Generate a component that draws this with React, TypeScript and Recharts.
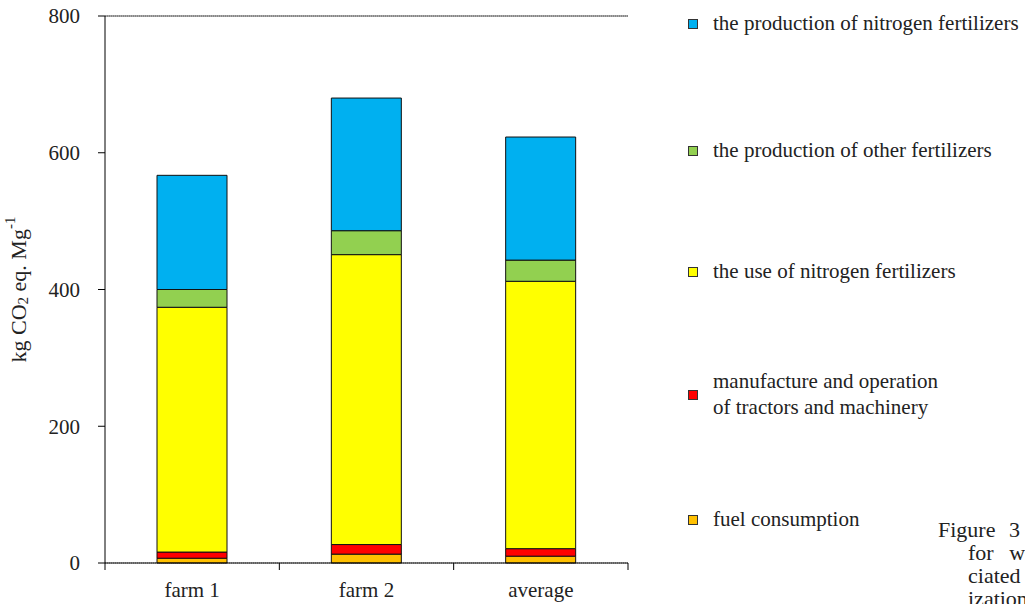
import React from "react";
import {
  Bar,
  BarChart,
  CartesianGrid,
  ReferenceLine,
  XAxis,
  YAxis,
} from "recharts";

const categories = ["farm 1", "farm 2", "average"];
const fuel = [7, 13, 10];
const machinery = [9, 14, 11];
const nitrogenUse = [358, 424, 391];
const otherProduction = [26, 35, 31];
const nitrogenProduction = [167, 194, 180];
const yTicks = [0, 200, 400, 600, 800];

const series = [
  { key: "fuel", name: "fuel consumption", color: "#FFC000", values: fuel },
  {
    key: "machinery",
    name: "manufacture and operation\nof tractors and machinery",
    color: "#FF0000",
    values: machinery,
  },
  { key: "nitrogenUse", name: "the use of nitrogen fertilizers", color: "#FFFF00", values: nitrogenUse },
  { key: "otherProduction", name: "the production of other fertilizers", color: "#92D050", values: otherProduction },
  {
    key: "nitrogenProduction",
    name: "the production of nitrogen fertilizers",
    color: "#00B0F0",
    values: nitrogenProduction,
  },
];

const data = categories.map((c, i) => {
  const row: Record<string, string | number> = { name: c };
  series.forEach((s) => (row[s.key] = s.values[i]));
  return row;
});

const FONT = '"Liberation Serif", "Times New Roman", serif';
const FS = 21;
const PLOT_LEFT = 105;
const PLOT_RIGHT = 628;
const HALF_BAND = (PLOT_RIGHT - PLOT_LEFT) / categories.length / 2;

// category ticks sit on the band edges, labels in the middle
function CategoryTick(props: any) {
  const { x, y, payload, index } = props;
  return (
    <g>
      <line x1={x - HALF_BAND} x2={x - HALF_BAND} y1={y} y2={y + 7} stroke="#000" />
      {index === categories.length - 1 && (
        <line x1={x + HALF_BAND} x2={x + HALF_BAND} y1={y} y2={y + 7} stroke="#000" />
      )}
      <text x={x} y={y + 34} textAnchor="middle" fontFamily={FONT} fontSize={FS} fill="#222">
        {payload.value}
      </text>
    </g>
  );
}

function YLabel(props: any) {
  const vb = props.viewBox || { x: 45, y: 16, width: 60, height: 547 };
  const cx = 18;
  const cy = vb.y + vb.height / 2;
  return (
    <text
      x={cx}
      y={cy}
      transform={`rotate(-90 ${cx} ${cy})`}
      textAnchor="middle"
      dominantBaseline="central"
      fontFamily={FONT}
      fontSize={22}
      fill="#222"
    >
      kg CO
      <tspan fontSize={15} dy={5}>2</tspan>
      <tspan dy={-5}> eq. Mg</tspan>
      <tspan fontSize={15} dy={-8}>-1</tspan>
    </text>
  );
}

const legendTops = [24, 151, 272, 395, 520];

export default function App() {
  const legendItems = [...series].reverse();
  return (
    <div style={{ position: "absolute", left: 0, top: 0, width: 1025, height: 604, overflow: "hidden", background: "#fff" }}>
      <BarChart
        width={1025}
        height={604}
        data={data}
        margin={{ top: 16, right: 397, bottom: 0, left: 45 }}
        barSize={70}
      >
        <CartesianGrid vertical={false} stroke="#777" strokeDasharray="1 1" />
        <XAxis
          dataKey="name"
          tickLine={false}
          tickSize={0}
          tickMargin={0}
          height={41}
          axisLine={{ stroke: "#000" }}
          tick={<CategoryTick />}
          interval={0}
        />
        <YAxis
          yAxisId="left"
          width={60}
          domain={[0, 800]}
          ticks={yTicks}
          tickSize={7}
          tickMargin={18}
          axisLine={{ stroke: "#000" }}
          tickLine={{ stroke: "#000" }}
          tick={{ fontFamily: FONT, fontSize: FS, fill: "#222" }}
          label={<YLabel />}
        />
        <YAxis
          yAxisId="right"
          orientation="right"
          width={0}
          domain={[0, 800]}
          tick={false}
          tickLine={false}
          axisLine={{ stroke: "#666" }}
        />
        <ReferenceLine yAxisId="left" y={800} stroke="#555" />
        {series.map((s) => (
          <Bar
            key={s.key}
            yAxisId="left"
            dataKey={s.key}
            name={s.name}
            stackId="a"
            fill={s.color}
            stroke="#111"
            strokeWidth={1}
            isAnimationActive={false}
          />
        ))}
      </BarChart>

      {legendItems.map((s, i) => {
        const lines = s.name.split("\n");
        const top = legendTops[i];
        return (
          <div key={s.key}>
            <div
              style={{
                position: "absolute",
                left: 688,
                top: top - 5,
                width: 8,
                height: 8,
                background: s.color,
                border: "1px solid #333",
              }}
            />
            {lines.map((l, j) => (
              <div
                key={j}
                style={{
                  position: "absolute",
                  left: 713,
                  top: top - 13 + (j - (lines.length - 1) / 2) * 26,
                  fontFamily: FONT,
                  fontSize: FS,
                  lineHeight: "24px",
                  color: "#222",
                  whiteSpace: "nowrap",
                }}
              >
                {l}
              </div>
            ))}
          </div>
        );
      })}

      <div
        style={{
          position: "absolute",
          left: 938,
          top: 518,
          fontFamily: FONT,
          fontSize: 22,
          lineHeight: "23px",
          color: "#222",
          whiteSpace: "nowrap",
        }}
      >
        <div style={{ wordSpacing: 8 }}>Figure 3</div>
        <div style={{ paddingLeft: 30, wordSpacing: 10 }}>for w</div>
        <div style={{ paddingLeft: 30 }}>ciated</div>
        <div style={{ paddingLeft: 30 }}>ization</div>
      </div>
    </div>
  );
}
